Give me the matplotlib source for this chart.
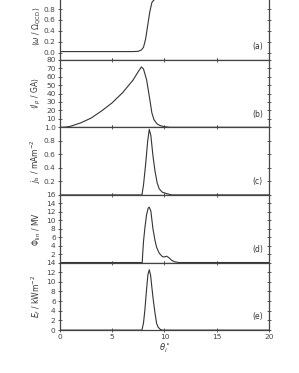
import matplotlib
matplotlib.use('Agg')
import matplotlib.pyplot as plt

# theta_i in degrees
theta_a = [0, 7.0, 7.5, 7.8, 8.0, 8.2, 8.4, 8.6, 8.8, 9.0, 9.3, 9.6, 10, 11, 20]
omega = [0.02, 0.02, 0.025, 0.05, 0.1, 0.25, 0.5, 0.75, 0.92, 0.97, 0.99, 1.0, 1.0, 1.0, 1.0]

theta_b = [0, 0.5, 1, 2, 3, 4, 5, 6, 7, 7.5, 7.8, 8.0, 8.3, 8.6, 8.8, 9.0, 9.3, 9.6, 10, 10.5, 20]
i_p = [0, 0.2, 1.2, 5.3, 11, 19.5, 29, 41, 56, 66, 71.5, 69, 56, 33, 17, 9, 4, 2, 0.8, 0, 0]

theta_c = [0, 7.85, 8.0, 8.2, 8.4, 8.55, 8.7, 8.9, 9.1, 9.3, 9.5, 9.8, 10.2, 10.7, 20]
j_b = [0, 0, 0.15, 0.45, 0.8, 0.97, 0.88, 0.58, 0.35, 0.18, 0.09, 0.04, 0.02, 0, 0]

theta_d = [0, 7.88, 7.92, 8.0, 8.13, 8.29, 8.45, 8.55, 8.7, 8.9, 9.1, 9.25, 9.5, 9.8, 10.0, 10.2,
           10.4, 10.7, 11.0, 11.4, 20]
phi = [0, 0, 2, 5, 8.2, 11.3, 12.9, 13.1, 12.2, 8.0, 5.2, 3.6, 2.2, 1.4, 1.3, 1.5,
       1.2, 0.5, 0.15, 0, 0]

theta_e = [0, 7.85, 8.0, 8.13, 8.29, 8.42, 8.55, 8.68, 8.8, 8.93, 9.1, 9.25, 9.4, 9.6, 9.8, 20]
e_f = [0, 0, 1.5, 4.2, 8.4, 11.5, 12.5, 11.3, 8.8, 6.3, 3.5, 1.4, 0.6, 0.15, 0, 0]

xs = [theta_a, theta_b, theta_c, theta_d, theta_e]
ys = [omega, i_p, j_b, phi, e_f]
ylabels = [r'$\langle\omega\ /\ \Omega_{\rm QCD}\rangle$', r'$\langle I_p\ /\ {\rm GA}\rangle$',
           r'$j_{\rm b}\ /\ {\rm mAm}^{-2}$', r'$\Phi_{\rm lin}\ /\ {\rm MV}$',
           r'$E_f\ /\ {\rm kWm}^{-2}$']
panel = ['(a)', '(b)', '(c)', '(d)', '(e)']
ylims = [(-0.13, 1.11), (0, 80), (0, 1.0), (0, 16), (0, 14)]
yticks = [[0, 0.2, 0.4, 0.6, 0.8], list(range(10, 81, 10)),
          [0.2, 0.4, 0.6, 0.8, 1.0], list(range(2, 17, 2)), list(range(0, 15, 2))]

fig, axes = plt.subplots(5, 1, sharex=True, figsize=(2.99, 3.73), dpi=100)
fig.subplots_adjust(left=0.2, right=0.9, bottom=0.115, top=1.021, hspace=0)

for i, ax in enumerate(axes):
    ax.plot(xs[i], ys[i], color='#333333', linewidth=0.8)
    ax.set_xlim(0, 20)
    ax.set_ylim(*ylims[i])
    ax.set_yticks(yticks[i])
    ax.set_ylabel(ylabels[i], fontsize=5.5, color='#333333')
    ax.yaxis.set_label_coords(-0.08, 0.5)
    ax.text(0.945, 0.13, panel[i], transform=ax.transAxes, ha='center', va='bottom',
            fontsize=5.5, color='#333333')
    ax.tick_params(axis='both', direction='inout', length=3, width=0.6, labelsize=5.3,
                   colors='#444444', top=True, right=True, pad=1.5)
    for s in ax.spines.values():
        s.set_color('#444444')
        s.set_linewidth(0.9)

axes[-1].set_xticks([0, 5, 10, 15, 20])
axes[-1].set_xlabel(r'$\theta_i^\circ$', fontsize=6, color='#333333', labelpad=1)

fig.savefig('out.png', dpi=100)
